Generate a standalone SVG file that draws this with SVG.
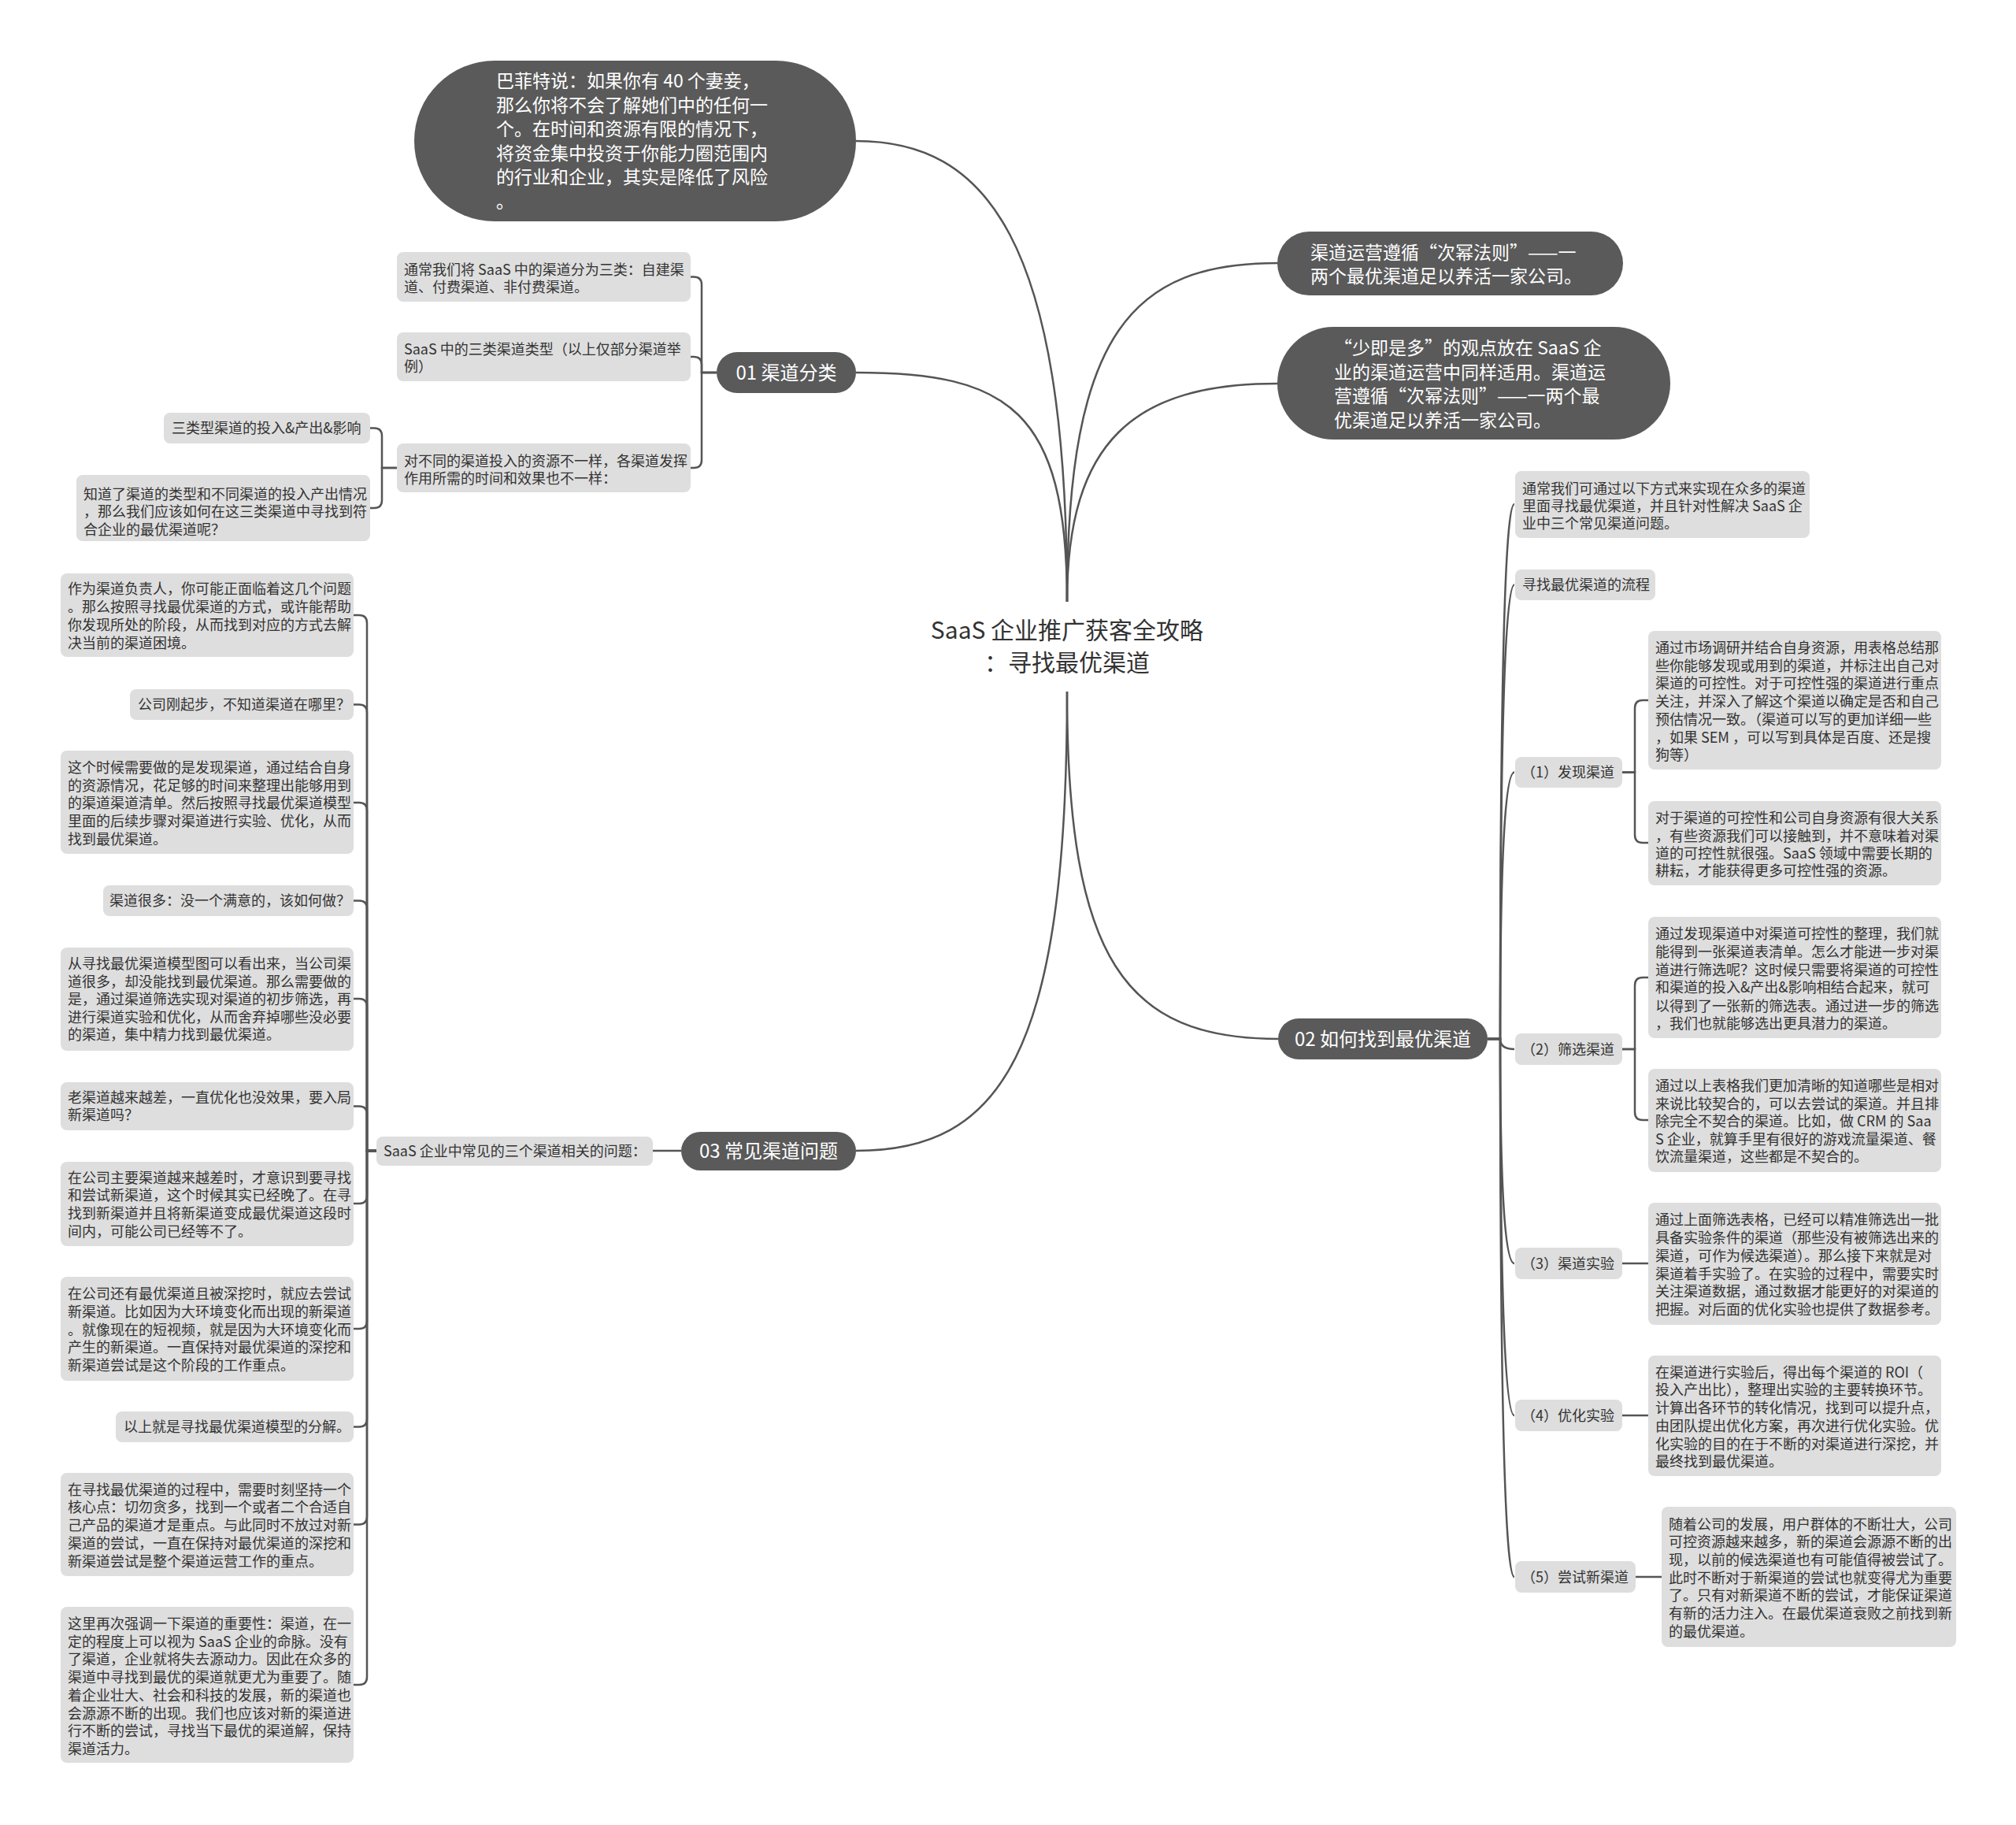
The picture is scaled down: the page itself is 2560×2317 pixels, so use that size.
<svg xmlns="http://www.w3.org/2000/svg" width="2560" height="2317" viewBox="0 0 2560 2317">
<style>
.dark{fill:#5a5a5a}
.box{fill:#dedede}
text{font-family:"Noto Sans CJK SC","Liberation Sans",sans-serif}
.t{font-size:18px;fill:#333}
.tw{font-size:23px;fill:#fff}
.tb{font-size:24px;fill:#fff}
.tc{font-size:30px;fill:#333}
.c{fill:none;stroke:#555;stroke-width:2.5}
</style>
<rect width="2560" height="2317" fill="#fff"/>
<g id="connectors">
<path class="c" d="M1355 764 C1355 300 1250 179 1087 179"/>
<path class="c" d="M1355 764 C1355 520 1280 473 1087 473"/>
<path class="c" d="M1355 764 C1355 420 1440 334 1622 334"/>
<path class="c" d="M1355 764 C1355 560 1440 487 1622 487"/>
<path class="c" d="M1355 878 C1355 1220 1430 1319 1623 1319"/>
<path class="c" d="M1355 878 C1355 1340 1270 1461 1087 1461"/>
<path class="c" d="M910 473 H891 V361.5 Q891 351.5 881 351.5 H877"/>
<path class="c" d="M910 473 H891 V463 Q891 453 881 453 H877"/>
<path class="c" d="M910 473 H891 V584 Q891 594 881 594 H877"/>
<path class="c" d="M504 594 H485 V553.5 Q485 543.5 475 543.5 H470"/>
<path class="c" d="M504 594 H485 V635 Q485 645 475 645 H470"/>
<path class="c" d="M865 1461 H829"/>
<path class="c" d="M478 1461 H466 V791 Q466 781 456 781 H449"/>
<path class="c" d="M478 1461 H466 V904.5 Q466 894.5 456 894.5 H449"/>
<path class="c" d="M478 1461 H466 V1029 Q466 1019 456 1019 H449"/>
<path class="c" d="M478 1461 H466 V1153.5 Q466 1143.5 456 1143.5 H449"/>
<path class="c" d="M478 1461 H466 V1278 Q466 1268 456 1268 H449"/>
<path class="c" d="M478 1461 H466 V1414.5 Q466 1404.5 456 1404.5 H449"/>
<path class="c" d="M478 1461 H466 V1518 Q466 1528 456 1528 H449"/>
<path class="c" d="M478 1461 H466 V1677 Q466 1687 456 1687 H449"/>
<path class="c" d="M478 1461 H466 V1801.5 Q466 1811.5 456 1811.5 H449"/>
<path class="c" d="M478 1461 H466 V1925.5 Q466 1935.5 456 1935.5 H449"/>
<path class="c" d="M478 1461 H466 V2129 Q466 2139 456 2139 H449"/>
<path class="c" d="M1889 1319 H1905 Q1905 640 1923 640"/>
<path class="c" d="M1889 1319 H1905 Q1905 742.5 1923 742.5"/>
<path class="c" d="M1889 1319 H1905 Q1905 980.5 1923 980.5"/>
<path class="c" d="M1889 1319 H1905 Q1905 1332 1923 1332"/>
<path class="c" d="M1889 1319 H1905 Q1905 1604 1923 1604"/>
<path class="c" d="M1889 1319 H1905 Q1905 1797 1923 1797"/>
<path class="c" d="M1889 1319 H1905 Q1905 2002 1923 2002"/>
<path class="c" d="M2060 980.5 H2076 V899 Q2076 889 2086 889 H2093"/>
<path class="c" d="M2060 980.5 H2076 V1060 Q2076 1070 2086 1070 H2093"/>
<path class="c" d="M2060 1332 H2076 V1251 Q2076 1241 2086 1241 H2093"/>
<path class="c" d="M2060 1332 H2076 V1412 Q2076 1422 2086 1422 H2093"/>
<path class="c" d="M2060 1604 H2093"/>
<path class="c" d="M2060 1797 H2093"/>
<path class="c" d="M2077 2002 H2110"/>
</g>
<g id="root">
<text class="tc" x="1355" y="811" text-anchor="middle">SaaS 企业推广获客全攻略</text>
<text class="tc" x="1355" y="852" text-anchor="middle">：寻找最优渠道</text>
</g>
<g id="buffett">
<rect class="dark" x="526" y="77" width="561" height="204" rx="102"/>
<text class="tw" x="630" y="111">巴菲特说：如果你有 40 个妻妾，</text>
<text class="tw" x="630" y="142">那么你将不会了解她们中的任何一</text>
<text class="tw" x="630" y="172">个。在时间和资源有限的情况下，</text>
<text class="tw" x="630" y="203">将资金集中投资于你能力圈范围内</text>
<text class="tw" x="630" y="233">的行业和企业，其实是降低了风险</text>
<text class="tw" x="630" y="264">。</text>
</g>
<g id="rule">
<rect class="dark" x="1622" y="294" width="439" height="81" rx="40.5"/>
<text class="tw" x="1664" y="329">渠道运营遵循“次幂法则”——一</text>
<text class="tw" x="1664" y="359">两个最优渠道足以养活一家公司。</text>
</g>
<g id="less-is-more">
<rect class="dark" x="1622" y="415" width="499" height="143" rx="71.5"/>
<text class="tw" x="1694" y="450">“少即是多”的观点放在 SaaS 企</text>
<text class="tw" x="1694" y="481">业的渠道运营中同样适用。渠道运</text>
<text class="tw" x="1694" y="511">营遵循“次幂法则”——一两个最</text>
<text class="tw" x="1694" y="542">优渠道足以养活一家公司。</text>
</g>
<g id="b01">
<rect class="dark" x="910" y="447" width="177" height="52" rx="26"/>
<text class="tb" x="998.5" y="481.5" text-anchor="middle">01 渠道分类</text>
</g>
<g id="b01-a">
<rect class="box" x="504" y="320" width="373" height="63" rx="8"/>
<text class="t" x="513" y="348.5">通常我们将 SaaS 中的渠道分为三类：自建渠</text>
<text class="t" x="513" y="370.5">道、付费渠道、非付费渠道。</text>
</g>
<g id="b01-b">
<rect class="box" x="504" y="422" width="373" height="62" rx="8"/>
<text class="t" x="513" y="449.5">SaaS 中的三类渠道类型（以上仅部分渠道举</text>
<text class="t" x="513" y="471.5">例）</text>
</g>
<g id="b01-c">
<rect class="box" x="504" y="563" width="373" height="62" rx="8"/>
<text class="t" x="513" y="591.5">对不同的渠道投入的资源不一样，各渠道发挥</text>
<text class="t" x="513" y="613.5">作用所需的时间和效果也不一样：</text>
</g>
<g id="b01-c1">
<rect class="box" x="208" y="524" width="262" height="39" rx="8"/>
<text class="t" x="218" y="549.5">三类型渠道的投入&amp;产出&amp;影响</text>
</g>
<g id="b01-c2">
<rect class="box" x="97" y="603" width="373" height="84" rx="8"/>
<text class="t" x="106" y="633.5">知道了渠道的类型和不同渠道的投入产出情况</text>
<text class="t" x="106" y="656">，那么我们应该如何在这三类渠道中寻找到符</text>
<text class="t" x="106" y="678.5">合企业的最优渠道呢？</text>
</g>
<g id="b03">
<rect class="dark" x="865" y="1437" width="222" height="49" rx="24.5"/>
<text class="tb" x="976" y="1470" text-anchor="middle">03 常见渠道问题</text>
</g>
<g id="b03-q">
<rect class="box" x="478" y="1443" width="351" height="37" rx="8"/>
<text class="t" x="487" y="1468">SaaS 企业中常见的三个渠道相关的问题：</text>
</g>
<g id="b03-1">
<rect class="box" x="77" y="728" width="372" height="106" rx="8"/>
<text class="t" x="86" y="754">作为渠道负责人，你可能正面临着这几个问题</text>
<text class="t" x="86" y="777">。那么按照寻找最优渠道的方式，或许能帮助</text>
<text class="t" x="86" y="799.5">你发现所处的阶段，从而找到对应的方式去解</text>
<text class="t" x="86" y="822.5">决当前的渠道困境。</text>
</g>
<g id="b03-2">
<rect class="box" x="165" y="875" width="284" height="39" rx="8"/>
<text class="t" x="175" y="901">公司刚起步，不知道渠道在哪里？</text>
</g>
<g id="b03-3">
<rect class="box" x="77" y="953" width="372" height="131" rx="8"/>
<text class="t" x="86" y="980.5">这个时候需要做的是发现渠道，通过结合自身</text>
<text class="t" x="86" y="1003.5">的资源情况，花足够的时间来整理出能够用到</text>
<text class="t" x="86" y="1026">的渠道渠道清单。然后按照寻找最优渠道模型</text>
<text class="t" x="86" y="1048.5">里面的后续步骤对渠道进行实验、优化，从而</text>
<text class="t" x="86" y="1071.5">找到最优渠道。</text>
</g>
<g id="b03-4">
<rect class="box" x="131" y="1124" width="318" height="39" rx="8"/>
<text class="t" x="139" y="1150">渠道很多：没一个满意的，该如何做？</text>
</g>
<g id="b03-5">
<rect class="box" x="77" y="1203" width="372" height="131" rx="8"/>
<text class="t" x="86" y="1229.5">从寻找最优渠道模型图可以看出来，当公司渠</text>
<text class="t" x="86" y="1252.5">道很多，却没能找到最优渠道。那么需要做的</text>
<text class="t" x="86" y="1275">是，通过渠道筛选实现对渠道的初步筛选，再</text>
<text class="t" x="86" y="1297.5">进行渠道实验和优化，从而舍弃掉哪些没必要</text>
<text class="t" x="86" y="1320">的渠道，集中精力找到最优渠道。</text>
</g>
<g id="b03-6">
<rect class="box" x="77" y="1374" width="372" height="61" rx="8"/>
<text class="t" x="86" y="1399.5">老渠道越来越差，一直优化也没效果，要入局</text>
<text class="t" x="86" y="1422">新渠道吗？</text>
</g>
<g id="b03-7">
<rect class="box" x="77" y="1475" width="372" height="107" rx="8"/>
<text class="t" x="86" y="1501.5">在公司主要渠道越来越差时，才意识到要寻找</text>
<text class="t" x="86" y="1524">和尝试新渠道，这个时候其实已经晚了。在寻</text>
<text class="t" x="86" y="1547">找到新渠道并且将新渠道变成最优渠道这段时</text>
<text class="t" x="86" y="1569.5">间内，可能公司已经等不了。</text>
</g>
<g id="b03-8">
<rect class="box" x="77" y="1621" width="372" height="132" rx="8"/>
<text class="t" x="86" y="1649">在公司还有最优渠道且被深挖时，就应去尝试</text>
<text class="t" x="86" y="1671.5">新渠道。比如因为大环境变化而出现的新渠道</text>
<text class="t" x="86" y="1694.5">。就像现在的短视频，就是因为大环境变化而</text>
<text class="t" x="86" y="1717">产生的新渠道。一直保持对最优渠道的深挖和</text>
<text class="t" x="86" y="1739.5">新渠道尝试是这个阶段的工作重点。</text>
</g>
<g id="b03-9">
<rect class="box" x="147" y="1792" width="302" height="39" rx="8"/>
<text class="t" x="157" y="1818">以上就是寻找最优渠道模型的分解。</text>
</g>
<g id="b03-10">
<rect class="box" x="77" y="1870" width="372" height="131" rx="8"/>
<text class="t" x="86" y="1897.5">在寻找最优渠道的过程中，需要时刻坚持一个</text>
<text class="t" x="86" y="1920">核心点：切勿贪多，找到一个或者二个合适自</text>
<text class="t" x="86" y="1943">己产品的渠道才是重点。与此同时不放过对新</text>
<text class="t" x="86" y="1966">渠道的尝试，一直在保持对最优渠道的深挖和</text>
<text class="t" x="86" y="1989">新渠道尝试是整个渠道运营工作的重点。</text>
</g>
<g id="b03-11">
<rect class="box" x="77" y="2040" width="372" height="198" rx="8"/>
<text class="t" x="86" y="2067.5">这里再次强调一下渠道的重要性：渠道，在一</text>
<text class="t" x="86" y="2090.5">定的程度上可以视为 SaaS 企业的命脉。没有</text>
<text class="t" x="86" y="2113">了渠道，企业就将失去源动力。因此在众多的</text>
<text class="t" x="86" y="2135.5">渠道中寻找到最优的渠道就更尤为重要了。随</text>
<text class="t" x="86" y="2158.5">着企业壮大、社会和科技的发展，新的渠道也</text>
<text class="t" x="86" y="2181.5">会源源不断的出现。我们也应该对新的渠道进</text>
<text class="t" x="86" y="2204">行不断的尝试，寻找当下最优的渠道解，保持</text>
<text class="t" x="86" y="2226.5">渠道活力。</text>
</g>
<g id="b02">
<rect class="dark" x="1623" y="1293" width="266" height="52" rx="26"/>
<text class="tb" x="1756" y="1327.5" text-anchor="middle">02 如何找到最优渠道</text>
</g>
<g id="b02-r1">
<rect class="box" x="1924" y="598" width="374" height="85" rx="8"/>
<text class="t" x="1933" y="626.5">通常我们可通过以下方式来实现在众多的渠道</text>
<text class="t" x="1933" y="648.5">里面寻找最优渠道，并且针对性解决 SaaS 企</text>
<text class="t" x="1933" y="670.5">业中三个常见渠道问题。</text>
</g>
<g id="b02-r2">
<rect class="box" x="1924" y="723" width="178" height="39" rx="8"/>
<text class="t" x="1933" y="749">寻找最优渠道的流程</text>
</g>
<g id="b02-s1">
<rect class="box" x="1924" y="961" width="136" height="39" rx="8"/>
<text class="t" x="1932" y="987">（1）发现渠道</text>
</g>
<g id="b02-s1a">
<rect class="box" x="2093" y="801" width="372" height="176" rx="8"/>
<text class="t" x="2102" y="828.5">通过市场调研并结合自身资源，用表格总结那</text>
<text class="t" x="2102" y="851.5">些你能够发现或用到的渠道，并标注出自己对</text>
<text class="t" x="2102" y="873.5">渠道的可控性。对于可控性强的渠道进行重点</text>
<text class="t" x="2102" y="896.5">关注，并深入了解这个渠道以确定是否和自己</text>
<text class="t" x="2102" y="919.5">预估情况一致。（渠道可以写的更加详细一些</text>
<text class="t" x="2102" y="942.5">，如果 SEM ，可以写到具体是百度、还是搜</text>
<text class="t" x="2102" y="964.5">狗等）</text>
</g>
<g id="b02-s1b">
<rect class="box" x="2093" y="1017" width="372" height="107" rx="8"/>
<text class="t" x="2102" y="1044.5">对于渠道的可控性和公司自身资源有很大关系</text>
<text class="t" x="2102" y="1067.5">，有些资源我们可以接触到，并不意味着对渠</text>
<text class="t" x="2102" y="1089.5">道的可控性就很强。SaaS 领域中需要长期的</text>
<text class="t" x="2102" y="1111.5">耕耘，才能获得更多可控性强的资源。</text>
</g>
<g id="b02-s2">
<rect class="box" x="1924" y="1312" width="136" height="40" rx="8"/>
<text class="t" x="1932" y="1338.5">（2）筛选渠道</text>
</g>
<g id="b02-s2a">
<rect class="box" x="2093" y="1164" width="372" height="154" rx="8"/>
<text class="t" x="2102" y="1191.5">通过发现渠道中对渠道可控性的整理，我们就</text>
<text class="t" x="2102" y="1214.5">能得到一张渠道表清单。怎么才能进一步对渠</text>
<text class="t" x="2102" y="1237.5">道进行筛选呢？这时候只需要将渠道的可控性</text>
<text class="t" x="2102" y="1259.5">和渠道的投入&amp;产出&amp;影响相结合起来，就可</text>
<text class="t" x="2102" y="1283.5">以得到了一张新的筛选表。通过进一步的筛选</text>
<text class="t" x="2102" y="1305.5">，我们也就能够选出更具潜力的渠道。</text>
</g>
<g id="b02-s2b">
<rect class="box" x="2093" y="1357" width="372" height="131" rx="8"/>
<text class="t" x="2102" y="1384.5">通过以上表格我们更加清晰的知道哪些是相对</text>
<text class="t" x="2102" y="1407.5">来说比较契合的，可以去尝试的渠道。并且排</text>
<text class="t" x="2102" y="1429.5">除完全不契合的渠道。比如，做 CRM 的 Saa</text>
<text class="t" x="2102" y="1452.5">S 企业，就算手里有很好的游戏流量渠道、餐</text>
<text class="t" x="2102" y="1474.5">饮流量渠道，这些都是不契合的。</text>
</g>
<g id="b02-s3">
<rect class="box" x="1924" y="1584" width="136" height="40" rx="8"/>
<text class="t" x="1932" y="1610.5">（3）渠道实验</text>
</g>
<g id="b02-s3a">
<rect class="box" x="2093" y="1527" width="372" height="155" rx="8"/>
<text class="t" x="2102" y="1554.5">通过上面筛选表格，已经可以精准筛选出一批</text>
<text class="t" x="2102" y="1577.5">具备实验条件的渠道（那些没有被筛选出来的</text>
<text class="t" x="2102" y="1600.5">渠道，可作为候选渠道）。那么接下来就是对</text>
<text class="t" x="2102" y="1623.5">渠道着手实验了。在实验的过程中，需要实时</text>
<text class="t" x="2102" y="1645.5">关注渠道数据，通过数据才能更好的对渠道的</text>
<text class="t" x="2102" y="1668.5">把握。对后面的优化实验也提供了数据参考。</text>
</g>
<g id="b02-s4">
<rect class="box" x="1924" y="1777" width="136" height="40" rx="8"/>
<text class="t" x="1932" y="1803.5">（4）优化实验</text>
</g>
<g id="b02-s4a">
<rect class="box" x="2093" y="1721" width="372" height="153" rx="8"/>
<text class="t" x="2102" y="1748.5">在渠道进行实验后，得出每个渠道的 ROI（</text>
<text class="t" x="2102" y="1770.5">投入产出比），整理出实验的主要转换环节。</text>
<text class="t" x="2102" y="1793.5">计算出各环节的转化情况，找到可以提升点，</text>
<text class="t" x="2102" y="1816.5">由团队提出优化方案，再次进行优化实验。优</text>
<text class="t" x="2102" y="1839.5">化实验的目的在于不断的对渠道进行深挖，并</text>
<text class="t" x="2102" y="1861.5">最终找到最优渠道。</text>
</g>
<g id="b02-s5">
<rect class="box" x="1924" y="1982" width="153" height="40" rx="8"/>
<text class="t" x="1932" y="2008.5">（5）尝试新渠道</text>
</g>
<g id="b02-s5a">
<rect class="box" x="2110" y="1913" width="374" height="178" rx="8"/>
<text class="t" x="2119" y="1941.5">随着公司的发展，用户群体的不断壮大，公司</text>
<text class="t" x="2119" y="1963.5">可控资源越来越多，新的渠道会源源不断的出</text>
<text class="t" x="2119" y="1986.5">现，以前的候选渠道也有可能值得被尝试了。</text>
<text class="t" x="2119" y="2009.5">此时不断对于新渠道的尝试也就变得尤为重要</text>
<text class="t" x="2119" y="2031.5">了。只有对新渠道不断的尝试，才能保证渠道</text>
<text class="t" x="2119" y="2054.5">有新的活力注入。在最优渠道衰败之前找到新</text>
<text class="t" x="2119" y="2077.5">的最优渠道。</text>
</g>
</svg>
